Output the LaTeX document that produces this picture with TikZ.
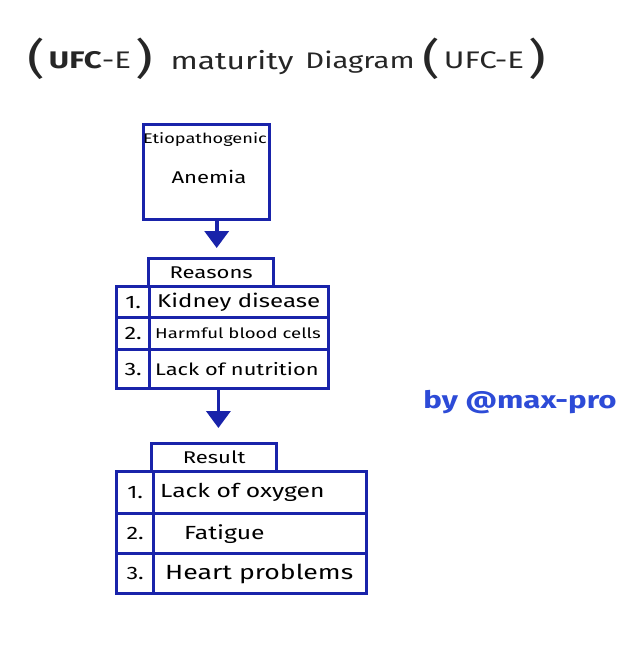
\documentclass[tikz,border=0pt]{standalone}
\usepackage{fontspec}
\setmainfont{Fira Sans}
\newfontfamily\hand[FakeStretch=1.3]{Fira Sans}
\usetikzlibrary{arrows.meta}
\definecolor{ink}{RGB}{25,35,170}
\definecolor{sig}{RGB}{45,75,215}
\newcommand{\fs}[1]{\fontsize{#1}{#1}\selectfont}
\newcommand{\bigp}[1]{{\fontsize{42}{42}\selectfont\raisebox{-5pt}{#1}}}
\tikzset{
  line/.style={draw=ink, line width=3.4pt},
  cell/.style={line, rectangle, inner sep=0pt, anchor=north west, font=\hand\fs{18}},
  numcell/.style={cell, align=center},
  txt/.style={anchor=west, inner sep=0pt, font=\hand\fs{18}},
  arr/.style={draw=ink, line width=3.6pt, -{Triangle[width=24pt,length=17pt]}},
  ttl/.style={font=\hand\fs{24}, text=black!85, anchor=base, inner sep=0pt},
}
\begin{document}
\begin{tikzpicture}[x=1pt,y=-1pt]
\useasboundingbox[fill=white] (0,0) rectangle (640,669);
% title
\node[ttl] (t1) at (90,69) {\bigp{(}\,\textbf{UFC}-E\,\bigp{)}};
\node[ttl, font=\hand\fs{24.5}] (t2) at (232,70) {maturity};
\node[ttl, font=\hand\fs{22.5}] (t3) at (360,69) {Diagram};
\node[ttl] (t4) at (484,69) {\bigp{(}\,UFC-E\,\bigp{)}};
% top box
\node[line, rectangle, minimum width=126pt, minimum height=95pt, anchor=north west] (etio) at (142,123) {};
\node[font=\hand\fs{14}] (etio1) at (205,140) {Etiopathogenic};
\node[font=\hand\fs{17}] (etio2) at (209,177) {Anemia};
% reasons
\node[cell, minimum width=125pt, minimum height=28pt, align=center, font=\hand\fs{17}] (rh) at (147,257) {Reasons};
\node[numcell, minimum width=33pt, minimum height=31pt] (rn1) at (115,285) {1.};
\node[cell, minimum width=179pt, minimum height=31pt] (rt1) at (148,285) {};
\node[numcell, minimum width=33pt, minimum height=32pt] (rn2) at (115,316) {2.};
\node[cell, minimum width=179pt, minimum height=32pt] (rt2) at (148,316) {};
\node[numcell, minimum width=33pt, minimum height=39pt] (rn3) at (115,348) {3.};
\node[cell, minimum width=179pt, minimum height=39pt] (rt3) at (148,348) {};
\node[txt, font=\hand\fs{18.5}] (rx1) at ([xshift=9pt]rt1.west) {Kidney disease};
\node[txt, font=\hand\fs{14.3}] (rx2) at ([xshift=7pt]rt2.west) {Harmful blood cells};
\node[txt, font=\hand\fs{16.8}] (rx3) at ([xshift=7pt]rt3.west) {Lack of nutrition};
% result
\node[cell, minimum width=125pt, minimum height=28pt, align=center, font=\hand\fs{17}] (sh) at (150,442) {Result};
\node[numcell, minimum width=37pt, minimum height=42pt] (sn1) at (115,470) {1.};
\node[cell, minimum width=213pt, minimum height=42pt] (st1) at (152,470) {};
\node[numcell, minimum width=37pt, minimum height=40pt] (sn2) at (115,512) {2.};
\node[cell, minimum width=213pt, minimum height=40pt] (st2) at (152,512) {};
\node[numcell, minimum width=37pt, minimum height=40pt] (sn3) at (115,552) {3.};
\node[cell, minimum width=213pt, minimum height=40pt] (st3) at (152,552) {};
\node[txt, font=\hand\fs{19}] (sx1) at ([xshift=8pt]st1.west) {Lack of oxygen};
\node[txt, font=\hand\fs{19}] (sx2) at ([xshift=32pt]st2.west) {Fatigue};
\node[txt, font=\hand\fs{20.5}] (sx3) at ([xshift=13pt]st3.west) {Heart problems};
% arrows
\draw[arr, shorten >=9pt] ([xshift=10pt]etio.south) -- ([xshift=5.5pt]rh.north);
\draw[arr, shorten >=14pt] (rt3.south -| rh.south east) ++(-57pt,0) coordinate (a2) -- (a2 |- sh.north);
% signature
\node[font=\hand\fs{24}\bfseries, text=sig] (sign) at (520,402) {by @max-pro};
\end{tikzpicture}
\end{document}
